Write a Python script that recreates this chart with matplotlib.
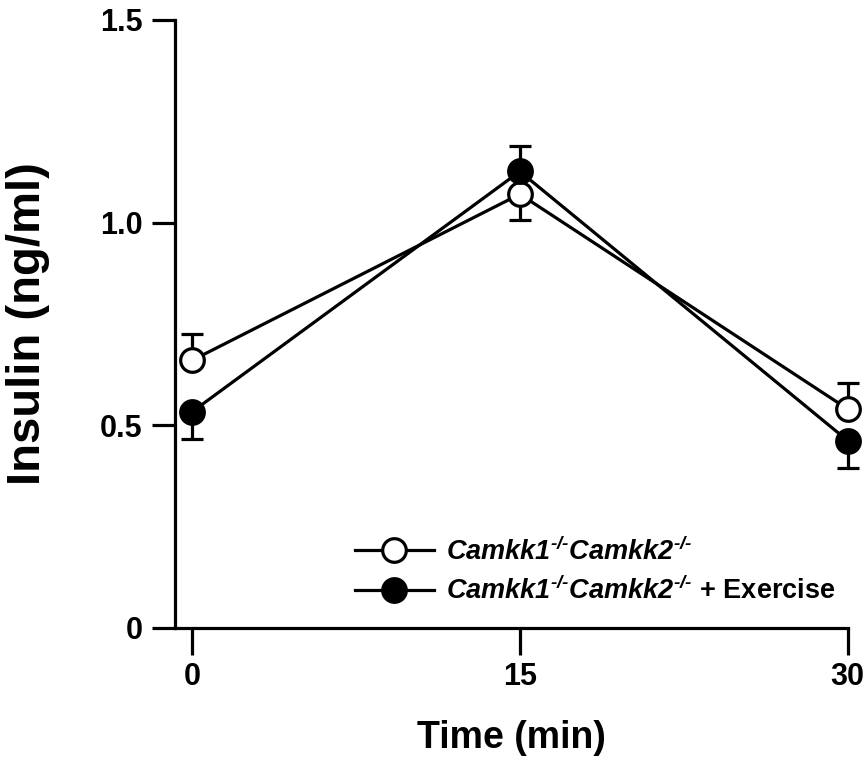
import matplotlib
matplotlib.use("Agg")
import matplotlib.pyplot as plt
from matplotlib.lines import Line2D

# ---- data ----
time_min = [0, 15, 30]
ko_mean = [0.66, 1.07, 0.54]          # Camkk1-/-Camkk2-/-
ko_sem = [0.065, 0.063, 0.065]
ko_dir = [1, -1, 1]                   # error bar drawn up (+1) or down (-1)
ex_mean = [0.533, 1.126, 0.462]       # + Exercise
ex_sem = [0.068, 0.064, 0.067]
ex_dir = [-1, 1, -1]

y_ticks = [0, 0.5, 1.0, 1.5]
y_ticklabels = ["0", "0.5", "1.0", "1.5"]
x_ticks = [0, 15, 30]

label_ko = r"$Camkk1^{\text{-/-}}Camkk2^{\text{-/-}}$"
label_ex = label_ko + " + Exercise"

plt.rcParams["font.family"] = ["Liberation Sans", "DejaVu Sans"]
plt.rcParams["font.weight"] = "bold"
plt.rcParams["mathtext.fontset"] = "custom"
plt.rcParams["mathtext.it"] = "Liberation Sans:italic:bold"
plt.rcParams["mathtext.rm"] = "Liberation Sans:italic:bold"
plt.rcParams["mathtext.bf"] = "Liberation Sans:italic:bold"

lw = 2.3
fig = plt.figure(figsize=(8.65, 7.63), dpi=100)
ax = fig.add_axes([0.2023, 0.177, 0.980 - 0.2023, 0.974 - 0.177])


def draw_series(mean, sem, dirs, face, z):
    lower = [s if d < 0 else 0 for s, d in zip(sem, dirs)]
    upper = [s if d > 0 else 0 for s, d in zip(sem, dirs)]
    ax.errorbar(time_min, mean, yerr=[lower, upper], fmt="none", ecolor="black",
                elinewidth=lw, capsize=8, capthick=lw, zorder=z, clip_on=False)
    ax.plot(time_min, mean, "-", color="black", linewidth=lw, marker="o",
            markersize=17, markerfacecolor=face, markeredgecolor="black",
            markeredgewidth=lw, zorder=z + 1, clip_on=False)


draw_series(ko_mean, ko_sem, ko_dir, "white", 3)
draw_series(ex_mean, ex_sem, ex_dir, "black", 5)

ax.set_xlim(-0.78, 30)
ax.set_ylim(0, 1.5)
ax.set_xticks(x_ticks)
ax.set_yticks(y_ticks)
ax.set_yticklabels(y_ticklabels)
for s in ["top", "right"]:
    ax.spines[s].set_visible(False)
for s in ["left", "bottom"]:
    ax.spines[s].set_linewidth(lw)
ax.tick_params(axis="y", length=16.5, width=lw, labelsize=22, pad=7)
ax.tick_params(axis="x", length=19.5, width=lw, labelsize=22, pad=5)
for t in ax.get_xticklabels() + ax.get_yticklabels():
    t.set_fontweight("bold")

ax.set_xlabel("Time (min)", fontsize=27, fontweight="bold", labelpad=20)
ax.set_ylabel("Insulin (ng/ml)", fontsize=34, fontweight="bold", labelpad=36)

handles = [
    Line2D([], [], color="black", linewidth=lw, marker="o", markersize=17,
           markerfacecolor="white", markeredgewidth=lw),
    Line2D([], [], color="black", linewidth=lw, marker="o", markersize=17,
           markerfacecolor="black", markeredgewidth=lw),
]
fig.legend(handles, [label_ko, label_ex], loc="upper left",
           bbox_to_anchor=(355 / 865, 1 - 537 / 763), frameon=False,
           borderpad=0, borderaxespad=0,
           handlelength=2.9, handletextpad=0.45, labelspacing=0.42,
           prop={"size": 19.5, "weight": "bold"})

fig.savefig("out.png", dpi=100)
